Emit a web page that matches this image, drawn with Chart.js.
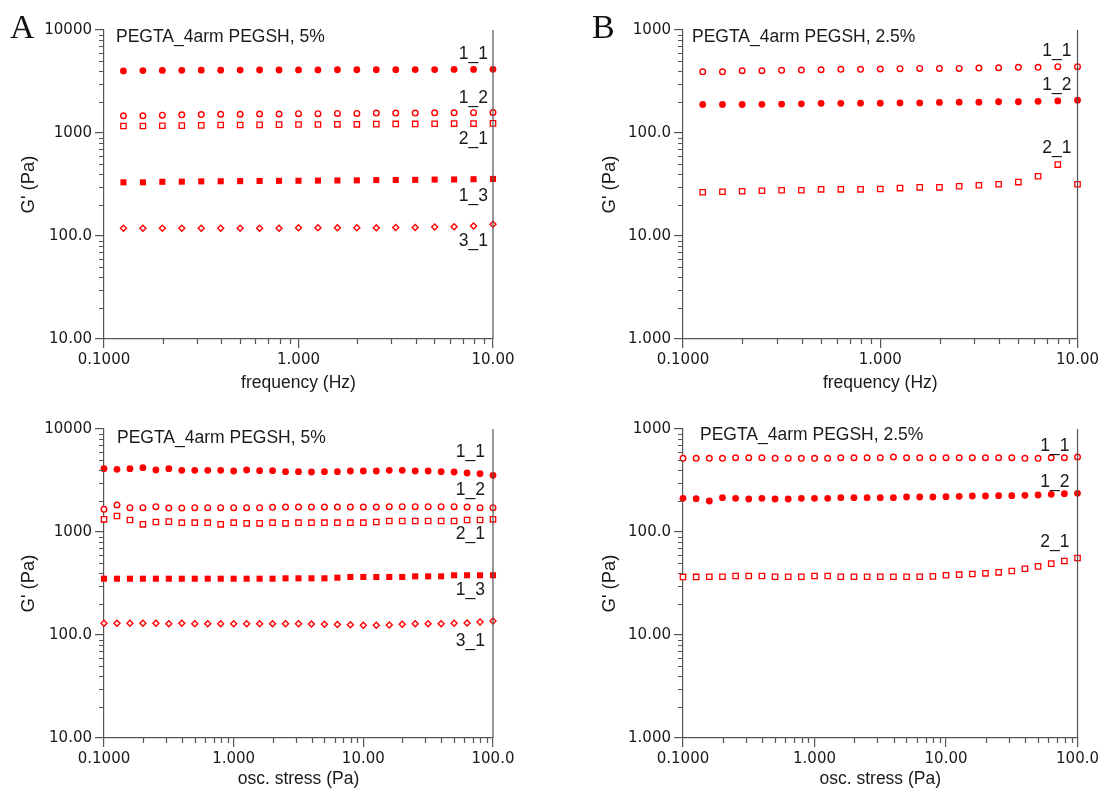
<!DOCTYPE html>
<html>
<head>
<meta charset="utf-8">
<title>PEGTA_4arm PEGSH rheology</title>
<script src="https://cdn.jsdelivr.net/npm/chart.js@4.4.1/dist/chart.umd.min.js"></script>
<style>
  html, body { margin: 0; padding: 0; background: #fff; }
  #wrap { position: relative; width: 1102px; height: 788px; overflow: hidden; }
  #wrap canvas { position: absolute; }
  .letter { position: absolute; font-family: "Liberation Serif", "Times New Roman", serif; font-size: 34px; line-height: 34px; color: #111; }
</style>
</head>
<body>
<div id="wrap">
  <canvas id="panelA1" width="551" height="394" style="left:0;top:0"></canvas>
  <canvas id="panelB1" width="551" height="394" style="left:551px;top:0"></canvas>
  <canvas id="panelA2" width="551" height="394" style="left:0;top:394px"></canvas>
  <canvas id="panelB2" width="551" height="394" style="left:551px;top:394px"></canvas>
  <div class="letter" style="left:10px;top:10px">A</div>
  <div class="letter" style="left:592px;top:10px">B</div>
</div>
<script>
// ---------------- Data ----------------
const freqHz = [0.1259, 0.1585, 0.1995, 0.2512, 0.3162, 0.3981, 0.5012, 0.6310, 0.7943, 1.000,
                1.259, 1.585, 1.995, 2.512, 3.162, 3.981, 5.012, 6.310, 7.943, 10.00];
const stressPa = [0.1000, 0.1259, 0.1585, 0.1995, 0.2512, 0.3162, 0.3981, 0.5012, 0.6310, 0.7943,
                  1.000, 1.259, 1.585, 1.995, 2.512, 3.162, 3.981, 5.012, 6.310, 7.943,
                  10.00, 12.59, 15.85, 19.95, 25.12, 31.62, 39.81, 50.12, 63.10, 79.43, 100.0];

// A, frequency sweep, 5%
const freqA_1_1 = [4010, 4040, 4050, 4060, 4070, 4070, 4080, 4090, 4090, 4100, 4100, 4110, 4110, 4120, 4120, 4130, 4130, 4140, 4140, 4150];
const freqA_1_2 = [1470, 1470, 1490, 1500, 1510, 1520, 1520, 1530, 1530, 1540, 1540, 1550, 1550, 1560, 1560, 1560, 1570, 1570, 1575, 1580];
const freqA_2_1 = [1170, 1170, 1175, 1180, 1185, 1195, 1195, 1200, 1205, 1210, 1210, 1215, 1215, 1220, 1225, 1225, 1230, 1235, 1235, 1240];
const freqA_1_3 = [332, 332, 336, 337, 339, 340, 341, 342, 343, 344, 345, 346, 347, 349, 350, 351, 353, 354, 356, 358];
const freqA_3_1 = [119, 119, 119, 119, 119, 119, 119, 119, 119, 120, 120, 120, 120, 120, 121, 121, 122, 123, 125, 130];

// B, frequency sweep, 2.5%
const freqB_1_1 = [393, 393, 402, 402, 406, 408, 411, 415, 415, 418, 421, 424, 424, 424, 427, 430, 434, 434, 440, 440];
const freqB_1_2 = [189, 189, 189, 190, 191, 192, 194, 194, 195, 195, 196, 196, 198, 199, 199, 201, 201, 203, 205, 208];
const freqB_2_1 = [26.6, 26.9, 27.2, 27.5, 27.8, 27.8, 28.4, 28.4, 28.4, 28.6, 29.2, 29.7, 29.7, 30.4, 31.1, 31.8, 33.4, 38.0, 49.4, 31.8];

// A, stress sweep, 5%
const stressA_1_1 = [4119, 4062, 4119, 4210, 3999, 4119, 3972, 3972, 3972, 3972, 3911, 3999, 3937, 3937, 3850, 3850,
                     3825, 3850, 3850, 3911, 3911, 3911, 3972, 3972, 3911, 3911, 3850, 3825, 3741, 3683, 3553];
const stressA_1_2 = [1661, 1829, 1721, 1721, 1760, 1710, 1710, 1721, 1721, 1721, 1721, 1721, 1721, 1737, 1749, 1749,
                     1749, 1749, 1749, 1749, 1749, 1749, 1760, 1760, 1760, 1760, 1760, 1760, 1749, 1721, 1721];
const stressA_2_1 = [1328, 1430, 1308, 1188, 1251, 1260, 1231, 1231, 1231, 1188, 1231, 1214, 1214, 1231, 1214, 1231,
                     1231, 1231, 1231, 1231, 1231, 1251, 1279, 1279, 1279, 1279, 1279, 1279, 1308, 1308, 1328];
const stressA_1_3 = [352, 352, 352, 352, 352, 352, 352, 352, 352, 352, 352, 352, 352, 352, 355, 355,
                     355, 355, 360, 366, 366, 366, 366, 366, 371, 371, 371, 380, 380, 380, 380];
const stressA_3_1 = [129.8, 129.8, 129.8, 129.8, 129.8, 128.8, 129.8, 128.8, 128.8, 128.8, 128.8, 128.8, 128.8, 128.8, 128.8, 128.8,
                     128.0, 126.9, 126.5, 125.5, 124.5, 124.5, 125.0, 126.9, 128.8, 128.8, 128.8, 129.8, 130.8, 133.7, 136.8];

// B, stress sweep, 2.5%
const stressB_1_1 = [519, 519, 519, 519, 526, 526, 526, 519, 519, 519, 519, 519, 526, 526, 526, 526,
                     535, 526, 526, 526, 526, 526, 526, 526, 526, 526, 519, 519, 526, 526, 535];
const stressB_1_2 = [212.3, 210.7, 200.0, 215.4, 212.3, 209.1, 212.3, 209.1, 209.1, 212.3, 212.3, 212.3, 215.4, 215.4, 215.4, 215.4,
                     215.4, 218.7, 218.7, 218.7, 220.3, 222.0, 223.6, 223.6, 225.4, 225.4, 227.0, 228.7, 232.1, 235.6, 237.4];
const stressB_2_1 = [36.6, 36.6, 36.8, 36.8, 37.4, 37.4, 37.4, 36.8, 36.8, 36.8, 37.4, 37.4, 36.8, 36.8, 36.8, 36.8,
                     36.8, 36.8, 36.8, 37.1, 38.0, 38.5, 39.1, 39.7, 40.6, 41.8, 44.0, 46.4, 49.3, 52.3, 55.9];

// Tick values and labels
const freqTicks = [0.1, 1, 10];
const freqTickLabels = ["0.1000", "1.000", "10.00"];
const stressTicks = [0.1, 1, 10, 100];
const stressTickLabels = ["0.1000", "1.000", "10.00", "100.0"];
const modTicksA = [10, 100, 1000, 10000];
const modTickLabelsA = ["10.00", "100.0", "1000", "10000"];
const modTicksB = [1, 10, 100, 1000];
const modTickLabelsB = ["1.000", "10.00", "100.0", "1000"];

// ---------------- Styles ----------------
const RED = "#ff0000";
const AXIS = "#555";
const TEXT = "#1a1a1a";

const markerStyles = {
  dot:     { pointStyle: "circle",  pointRadius: 3.4, pointBackgroundColor: RED, pointBorderColor: RED, pointBorderWidth: 0 },
  ring:    { pointStyle: "circle",  pointRadius: 2.8, pointBackgroundColor: "#fff", pointBorderColor: RED, pointBorderWidth: 1.4 },
  box:     { pointStyle: "rect",    pointRadius: 3.8, pointBackgroundColor: "#fff", pointBorderColor: RED, pointBorderWidth: 1.3 },
  block:   { pointStyle: "rect",    pointRadius: 4.3, pointBackgroundColor: RED, pointBorderColor: RED, pointBorderWidth: 0 },
  diamond: { pointStyle: "rectRot", pointRadius: 3.0, pointBackgroundColor: "#fff", pointBorderColor: RED, pointBorderWidth: 1.4 }
};

// per-panel text extras, keyed by canvas id
const panelExtras = {};

// ---------------- Plugin: frame, minor ticks, title, tags ----------------
const axisExtras = {
  id: "axisExtras",
  afterDraw(chart) {
    const ex = panelExtras[chart.canvas.id];
    if (!ex) return;
    const ctx = chart.ctx;
    const { left, right, top, bottom } = chart.chartArea;
    const xs = chart.scales.x, ys = chart.scales.y;
    ctx.save();
    ctx.strokeStyle = AXIS;
    ctx.lineWidth = 1.2;
    ctx.beginPath();
    ctx.moveTo(right, top);
    ctx.lineTo(right, bottom);
    // minor ticks, y
    for (let d = Math.round(Math.log10(ys.min)); d < Math.round(Math.log10(ys.max)); d++) {
      for (let m = 2; m <= 9; m++) {
        const py = Math.round(ys.getPixelForValue(m * Math.pow(10, d))) + 0.5;
        ctx.moveTo(left - 5, py);
        ctx.lineTo(left, py);
      }
    }
    // minor ticks, x
    for (let d = Math.round(Math.log10(xs.min)); d < Math.round(Math.log10(xs.max)); d++) {
      for (let m = 2; m <= 9; m++) {
        const px = Math.round(xs.getPixelForValue(m * Math.pow(10, d))) + 0.5;
        ctx.moveTo(px, bottom);
        ctx.lineTo(px, bottom + 5);
      }
    }
    ctx.stroke();

    ctx.fillStyle = TEXT;
    ctx.font = "17.5px 'Liberation Sans', Arial, sans-serif";
    ctx.textAlign = "left";
    ctx.textBaseline = "alphabetic";
    ctx.fillText(ex.title, left + ex.titleDx, top + ex.titleDy);

    ctx.textAlign = "right";
    ctx.textBaseline = "middle";
    ex.tags.forEach(t => {
      const pts = chart.getDatasetMeta(t.series).data;
      const pt = pts[t.at !== undefined ? t.at : pts.length - 1];
      if (pt) ctx.fillText(t.text, right - ex.tagInset, pt.y + t.dy);
    });
    ctx.restore();
  }
};

// ---------------- Panels ----------------
function logAxis(ticks, labels) {
  return {
    type: "logarithmic",
    min: ticks[0],
    max: ticks[ticks.length - 1],
    afterBuildTicks: s => { s.ticks = ticks.map(v => ({ value: v })); },
    ticks: {
      autoSkip: false,
      maxRotation: 0,
      padding: 3,
      color: TEXT,
      font: { family: "'DejaVu Sans', Verdana, sans-serif", size: 15 },
      callback: v => labels[ticks.indexOf(v)]
    },
    grid: { display: true, drawOnChartArea: false, drawTicks: true, tickLength: 9, color: AXIS, tickColor: AXIS, lineWidth: 1.2 },
    border: { display: true, color: AXIS, width: 1.2 }
  };
}

function makePanel(id, cfg) {
  panelExtras[id] = { title: cfg.title, titleDx: cfg.titleDx, titleDy: cfg.titleDy, tagInset: cfg.tagInset, tags: cfg.tags };

  const xAxis = logAxis(cfg.xTicks, cfg.xLabels);
  xAxis.afterFit = s => { s.height = cfg.xHeight; };
  xAxis.title = { display: true, text: cfg.xTitle, color: TEXT,
                  font: { family: "'Liberation Sans', Arial, sans-serif", size: 17.5, lineHeight: 1 },
                  padding: { top: 0, bottom: cfg.xTitlePad } };
  const yAxis = logAxis(cfg.yTicks, cfg.yLabels);
  yAxis.afterFit = s => { s.width = cfg.yWidth; };
  yAxis.title = { display: true, text: "G' (Pa)", color: TEXT,
                  font: { family: "'Liberation Sans', Arial, sans-serif", size: 18.5, lineHeight: 1 },
                  padding: { top: cfg.yTitlePad, bottom: 0 } };

  return new Chart(document.getElementById(id), {
    type: "scatter",
    data: {
      datasets: cfg.series.map(s => Object.assign({
        label: s.name,
        data: cfg.xs.map((x, i) => ({ x: x, y: s.values[i] })),
        showLine: false,
        clip: false
      }, markerStyles[s.marker]))
    },
    options: {
      responsive: false,
      animation: false,
      events: [],
      layout: { padding: cfg.padding },
      plugins: { legend: { display: false }, tooltip: { enabled: false } },
      scales: { x: xAxis, y: yAxis }
    },
    plugins: [axisExtras]
  });
}

makePanel("panelA1", {
  xs: freqHz, xTicks: freqTicks, xLabels: freqTickLabels, xTitle: "frequency (Hz)",
  yTicks: modTicksA, yLabels: modTickLabelsA,
  padding: { left: 0, top: 30, right: 58, bottom: 0 }, yWidth: 104, xHeight: 55, xTitlePad: 2.5, yTitlePad: 20,
  title: "PEGTA_4arm PEGSH, 5%", titleDx: 12, titleDy: 12, tagInset: 5,
  series: [
    { name: "1_1", values: freqA_1_1, marker: "dot" },
    { name: "1_2", values: freqA_1_2, marker: "ring" },
    { name: "2_1", values: freqA_2_1, marker: "box" },
    { name: "1_3", values: freqA_1_3, marker: "block" },
    { name: "3_1", values: freqA_3_1, marker: "diamond" }
  ],
  tags: [
    { text: "1_1", series: 0, dy: -15 },
    { text: "1_2", series: 1, dy: -14 },
    { text: "2_1", series: 2, dy: 16 },
    { text: "1_3", series: 3, dy: 17 },
    { text: "3_1", series: 4, dy: 16.5 }
  ]
});

makePanel("panelB1", {
  xs: freqHz, xTicks: freqTicks, xLabels: freqTickLabels, xTitle: "frequency (Hz)",
  yTicks: modTicksB, yLabels: modTickLabelsB,
  padding: { left: 0, top: 30, right: 24, bottom: 0 }, yWidth: 132, xHeight: 55, xTitlePad: 2.5, yTitlePad: 50,
  title: "PEGTA_4arm PEGSH, 2.5%", titleDx: 9, titleDy: 12, tagInset: 6,
  series: [
    { name: "1_1", values: freqB_1_1, marker: "ring" },
    { name: "1_2", values: freqB_1_2, marker: "dot" },
    { name: "2_1", values: freqB_2_1, marker: "box" }
  ],
  tags: [
    { text: "1_1", series: 0, dy: -16 },
    { text: "1_2", series: 1, dy: -15 },
    { text: "2_1", series: 2, dy: -16, at: 18 }
  ]
});

makePanel("panelA2", {
  xs: stressPa, xTicks: stressTicks, xLabels: stressTickLabels, xTitle: "osc. stress (Pa)",
  yTicks: modTicksA, yLabels: modTickLabelsA,
  padding: { left: 0, top: 35, right: 58, bottom: 0 }, yWidth: 104, xHeight: 50, xTitlePad: 0.5, yTitlePad: 20,
  title: "PEGTA_4arm PEGSH, 5%", titleDx: 13, titleDy: 13.5, tagInset: 8,
  series: [
    { name: "1_1", values: stressA_1_1, marker: "dot" },
    { name: "1_2", values: stressA_1_2, marker: "ring" },
    { name: "2_1", values: stressA_2_1, marker: "box" },
    { name: "1_3", values: stressA_1_3, marker: "block" },
    { name: "3_1", values: stressA_3_1, marker: "diamond" }
  ],
  tags: [
    { text: "1_1", series: 0, dy: -23 },
    { text: "1_2", series: 1, dy: -18 },
    { text: "2_1", series: 2, dy: 15 },
    { text: "1_3", series: 3, dy: 15 },
    { text: "3_1", series: 4, dy: 20 }
  ]
});

makePanel("panelB2", {
  xs: stressPa, xTicks: stressTicks, xLabels: stressTickLabels, xTitle: "osc. stress (Pa)",
  yTicks: modTicksB, yLabels: modTickLabelsB,
  padding: { left: 0, top: 35, right: 24, bottom: 0 }, yWidth: 132, xHeight: 50, xTitlePad: 0.5, yTitlePad: 50,
  title: "PEGTA_4arm PEGSH, 2.5%", titleDx: 17, titleDy: 11, tagInset: 8,
  series: [
    { name: "1_1", values: stressB_1_1, marker: "ring" },
    { name: "1_2", values: stressB_1_2, marker: "dot" },
    { name: "2_1", values: stressB_2_1, marker: "box" }
  ],
  tags: [
    { text: "1_1", series: 0, dy: -11 },
    { text: "1_2", series: 1, dy: -11 },
    { text: "2_1", series: 2, dy: -15.5 }
  ]
});
</script>
</body>
</html>
